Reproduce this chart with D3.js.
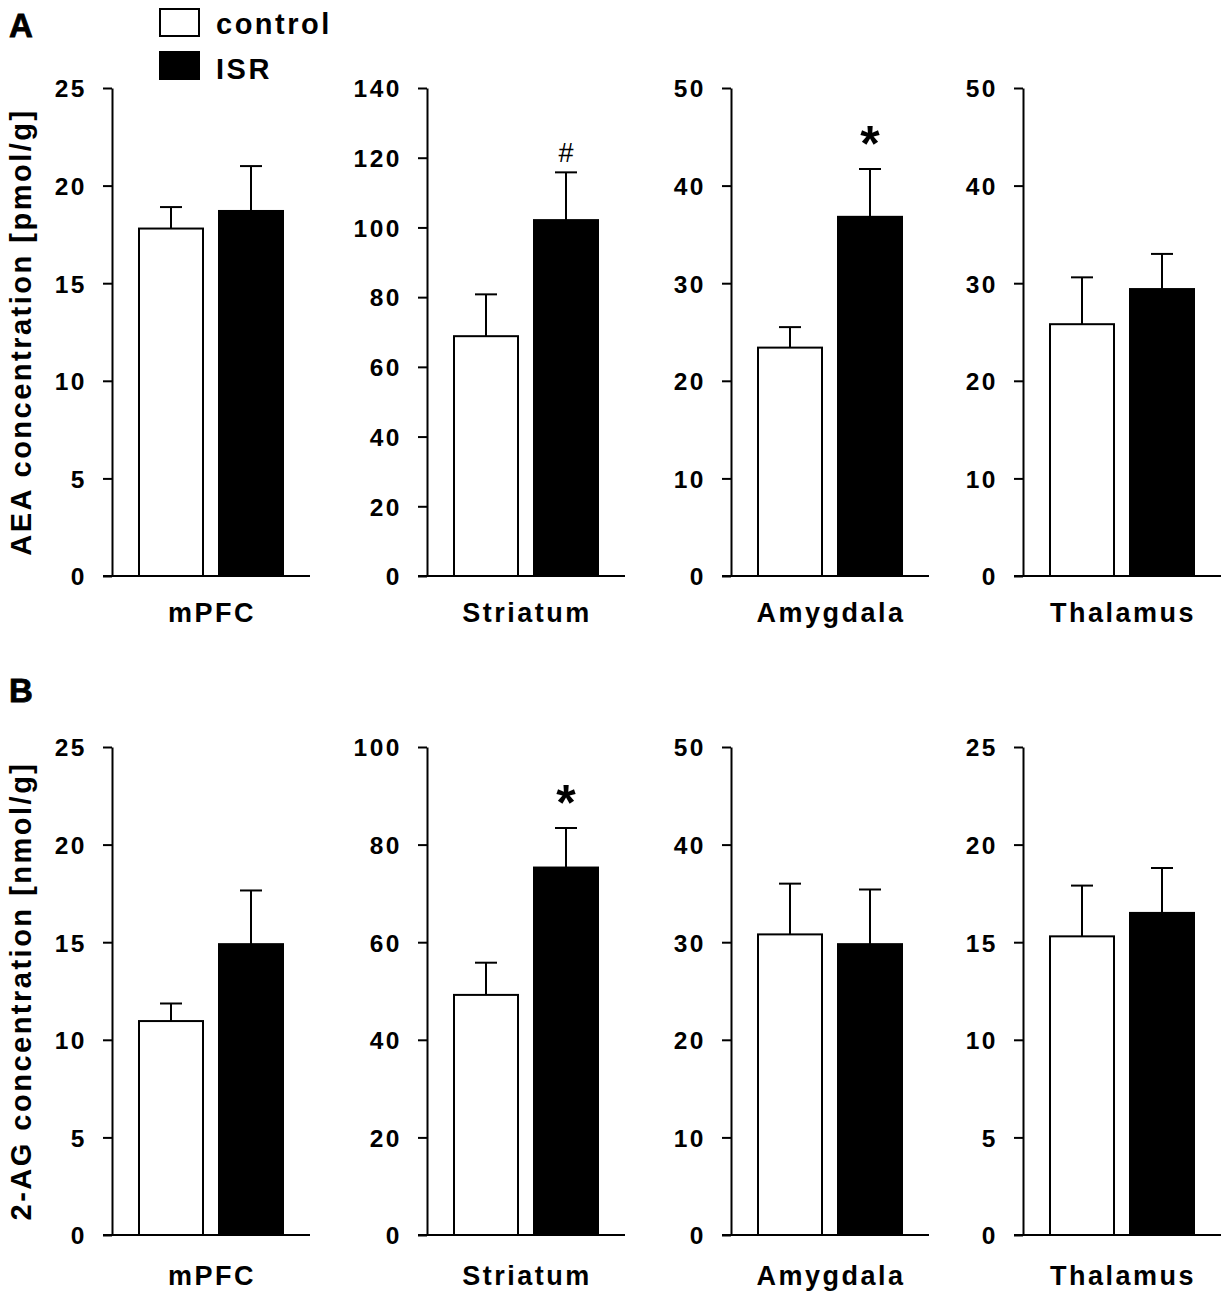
<!DOCTYPE html>
<html>
<head>
<meta charset="utf-8">
<script src="https://cdn.jsdelivr.net/npm/d3@7"></script>
<style>
  body { margin: 0; background: #fff; }
  text { font-family: "Liberation Sans", Arial, sans-serif; font-weight: bold; fill: #000; }
</style>
</head>
<body>
<script>
const regions = ["mPFC", "Striatum", "Amygdala", "Thalamus"];
const groups = ["control", "ISR"];

// A: AEA concentration [pmol/g]
const aeaControl = [17.8, 68.8, 23.4, 25.8];
const aeaControlSem = [1.1, 12.0, 2.1, 4.8];
const aeaIsr = [18.7, 102.1, 36.8, 29.4];
const aeaIsrSem = [2.3, 13.7, 4.9, 3.6];
const aeaMax = [25, 140, 50, 50];
const aeaStep = [5, 20, 10, 10];
const aeaMarks = ["", "#", "*", ""];

// B: 2-AG concentration [nmol/g]
const agControl = [10.96, 49.2, 30.8, 15.3];
const agControlSem = [0.9, 6.6, 5.2, 2.6];
const agIsr = [14.9, 75.3, 29.8, 16.5];
const agIsrSem = [2.75, 8.1, 5.6, 2.3];
const agMax = [25, 100, 50, 25];
const agStep = [5, 20, 10, 5];
const agMarks = ["", "*", "", ""];

const W = 1231, H = 1300;
const panelX = [112, 427, 731, 1023];
const panelW = 198;

const svg = d3.select("body").append("svg")
    .attr("width", W)
    .attr("height", H)
    .attr("viewBox", [0, 0, W, H]);

const rows = [
    { letter: "A", letterY: 37, top: 88, bottom: 576, labelY: 622,
      title: "AEA concentration [pmol/g]",
      control: aeaControl, controlSem: aeaControlSem, isr: aeaIsr, isrSem: aeaIsrSem,
      max: aeaMax, step: aeaStep, marks: aeaMarks },
    { letter: "B", letterY: 702, top: 747, bottom: 1235, labelY: 1285,
      title: "2-AG concentration [nmol/g]",
      control: agControl, controlSem: agControlSem, isr: agIsr, isrSem: agIsrSem,
      max: agMax, step: agStep, marks: agMarks }
];

rows.forEach(row => {
    svg.append("text")
        .attr("x", 9)
        .attr("y", row.letterY)
        .style("font-size", "33px")
        .style("stroke", "#000")
        .style("stroke-width", "0.8px")
        .text(row.letter);

    svg.append("text")
        .attr("transform", `translate(31,${(row.top + row.bottom) / 2}) rotate(-90)`)
        .attr("text-anchor", "middle")
        .style("font-size", "29px")
        .style("letter-spacing", "2.5px")
        .text(row.title);

    regions.forEach((region, i) => {
        const x0 = panelX[i];
        const g = svg.append("g");

        const y = d3.scaleLinear()
            .domain([0, row.max[i]])
            .range([row.bottom, row.top]);

        const x = d3.scaleBand()
            .domain(groups)
            .range([x0 + 19, x0 + 179])
            .paddingInner(0.2)
            .paddingOuter(0.1);

        const yAxis = g.append("g")
            .attr("transform", `translate(${x0},0)`)
            .call(d3.axisLeft(y)
                .tickValues(d3.range(0, row.max[i] + row.step[i] / 2, row.step[i]))
                .tickSize(9)
                .tickSizeOuter(0)
                .tickPadding(16));
        yAxis.select(".domain").attr("stroke-width", 2);
        yAxis.selectAll(".tick line").attr("stroke-width", 2);
        yAxis.selectAll(".tick text")
            .attr("fill", "#000")
            .style("font-size", "24.5px")
            .style("font-family", "'Liberation Sans', Arial, sans-serif")
            .style("font-weight", "bold")
            .style("letter-spacing", "2.5px")
            .attr("dy", "0.36em");

        g.append("line")
            .attr("x1", x0 - 9)
            .attr("x2", x0 + panelW)
            .attr("y1", y(0))
            .attr("y2", y(0))
            .attr("stroke", "#000")
            .attr("stroke-width", 2);

        const data = [
            { group: "control", value: row.control[i], sem: row.controlSem[i] },
            { group: "ISR", value: row.isr[i], sem: row.isrSem[i] }
        ];

        // error bars (upper only)
        const capW = 22;
        data.forEach(d => {
            const cx = x(d.group) + x.bandwidth() / 2;
            g.append("line")
                .attr("x1", cx).attr("x2", cx)
                .attr("y1", y(d.value)).attr("y2", y(d.value + d.sem))
                .attr("stroke", "#000").attr("stroke-width", 2);
            g.append("line")
                .attr("x1", cx - capW / 2).attr("x2", cx + capW / 2)
                .attr("y1", y(d.value + d.sem)).attr("y2", y(d.value + d.sem))
                .attr("stroke", "#000").attr("stroke-width", 2);
        });

        g.selectAll("rect.bar")
            .data(data)
            .join("rect")
            .attr("class", "bar")
            .attr("x", d => x(d.group))
            .attr("y", d => y(d.value))
            .attr("width", x.bandwidth())
            .attr("height", d => y(0) - y(d.value))
            .attr("fill", d => d.group === "control" ? "#fff" : "#000")
            .attr("stroke", "#000")
            .attr("stroke-width", 2);

        const mark = row.marks[i];
        if (mark) {
            const isr = data[1];
            const cx = x("ISR") + x.bandwidth() / 2;
            g.append("text")
                .attr("x", cx)
                .attr("y", y(isr.value + isr.sem) - (mark === "*" ? 8 : 10))
                .attr("text-anchor", "middle")
                .style("font-size", mark === "*" ? "50px" : "27px")
                .style("font-weight", mark === "*" ? "bold" : "normal")
                .text(mark);
        }

        g.append("text")
            .attr("x", (x("control") + x("ISR") + x.bandwidth()) / 2 + 1)
            .attr("y", row.labelY)
            .attr("text-anchor", "middle")
            .style("font-size", "27px")
            .style("letter-spacing", "2.5px")
            .text(region);
    });
});

// legend
const legend = svg.append("g");
groups.forEach((grp, k) => {
    legend.append("rect")
        .attr("x", 160)
        .attr("y", 9 + k * 43)
        .attr("width", 39)
        .attr("height", 27)
        .attr("fill", grp === "control" ? "#fff" : "#000")
        .attr("stroke", "#000")
        .attr("stroke-width", 2);
    legend.append("text")
        .attr("x", 216)
        .attr("y", 34 + k * 45)
        .style("font-size", "29px")
        .style("letter-spacing", "2.5px")
        .text(grp);
});
</script>
</body>
</html>
